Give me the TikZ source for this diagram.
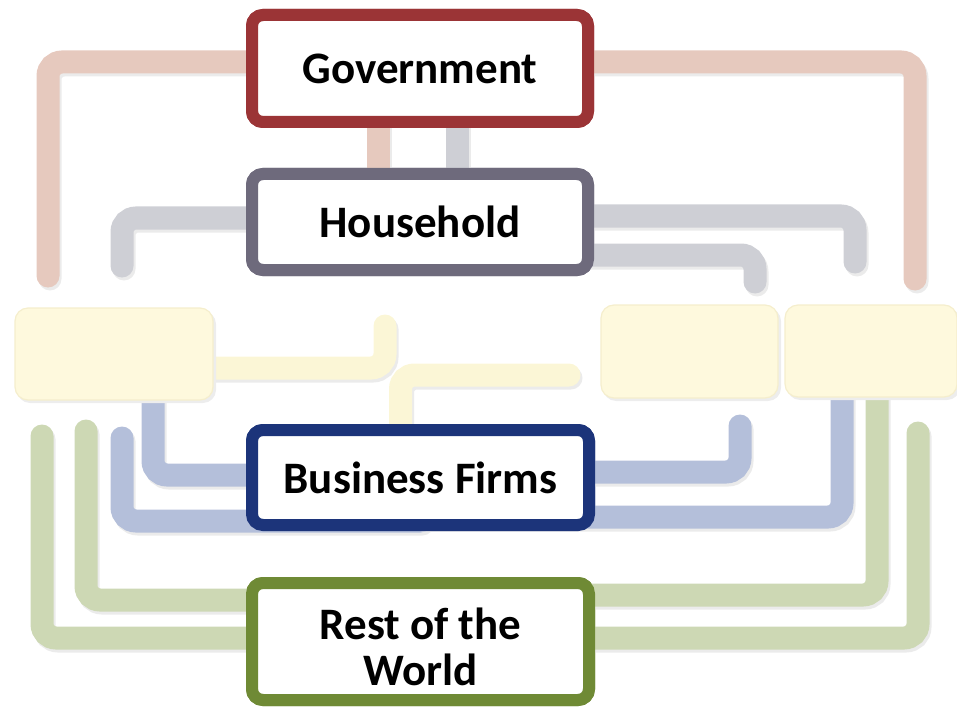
\documentclass[tikz,border=0pt]{standalone}
\usepackage{fontspec}
\setmainfont{Carlito}
\definecolor{govred}{RGB}{155,52,54}
\definecolor{hhgray}{RGB}{110,106,124}
\definecolor{bfblue}{RGB}{28,52,122}
\definecolor{rwgreen}{RGB}{111,138,53}
\definecolor{pinkflow}{RGB}{230,201,190}
\definecolor{grayflow}{RGB}{206,207,213}
\definecolor{yellowflow}{RGB}{251,246,214}
\definecolor{blueflow}{RGB}{180,191,218}
\definecolor{greenflow}{RGB}{205,216,180}
\definecolor{sectorfill}{RGB}{254,249,221}
\definecolor{sectoredge}{RGB}{245,238,205}
\newcommand\flow[2]{%
  \draw[flowshade] #2;
  \draw[flowline=#1] #2;}
\begin{document}
\begin{tikzpicture}[x=1pt,y=-1pt,
  flowline/.style={draw=#1, line width=23pt, line cap=round, rounded corners=14pt},
  flowshade/.style={draw=black!8, line width=23pt, line cap=round, rounded corners=14pt,
    transform canvas={shift={(2pt,-3pt)}}},
  agent/.style={draw=#1, line width=12pt, fill=white, rounded corners=11pt,
    inner sep=0pt, align=center, font=\bfseries\fontsize{45}{46}\selectfont},
  sector/.style={draw=sectoredge, line width=1.2pt, fill=sectorfill, rounded corners=13pt,
    inner sep=0pt}
]
\useasboundingbox (0,0) rectangle (957,711);

% agents and sectors (placed first so the flows can refer to them)
\path
  (420,68.5)   node[agent=govred,  minimum width=336pt, minimum height=107pt] (gov) {}
  (420,222)    node[agent=hhgray,  minimum width=336pt, minimum height=96pt]  (hh)  {}
  (420.5,477.5) node[agent=bfblue, minimum width=337pt, minimum height=95pt]  (bf)  {}
  (420.5,641.5) node[agent=rwgreen,minimum width=337pt, minimum height=117pt] (rw)  {};

% free ends of the flows
\coordinate (p1end) at (48,276);
\coordinate (p2end) at (915,279);
\coordinate (g5end) at (122,266);
\coordinate (g6end) at (855,262);
\coordinate (g7end) at (755,282);
\coordinate (y8end) at (385,326);
\coordinate (y9end) at (569,375);
\coordinate (b11s)  at (122,438);
\coordinate (b12end) at (740,426);
\coordinate (g14s)  at (42,436);
\coordinate (g15s)  at (86,431);
\coordinate (g17end) at (918,433);
\coordinate (ylc) at (114,354);
\coordinate (yrc) at (871,351);

% government flows
\flow{pinkflow}{([yshift=6.5pt]gov.center) -| (p1end)}
\flow{pinkflow}{([yshift=6.5pt]gov.center) -| (p2end)}
\flow{pinkflow}{([xshift=-42pt]gov.center) -- ([xshift=-42pt]hh.center)}
\flow{grayflow}{([xshift=37pt]gov.center) -- ([xshift=37pt]hh.center)}
% household flows
\flow{grayflow}{([yshift=4pt]hh.center) -| (g5end)}
\flow{grayflow}{([yshift=6pt]hh.center) -| (g6end)}
\flow{grayflow}{([yshift=-33pt]hh.center) -| (g7end)}
% flows between the sectors
\flow{yellowflow}{([yshift=-14pt]ylc) -| (y8end)}
\flow{yellowflow}{([xshift=-20pt]bf.center) |- (y9end)}
% business flows
\flow{blueflow}{([xshift=39pt]ylc) |- ([yshift=2.5pt]bf.center)}
\flow{blueflow}{(b11s) |- ([yshift=-43.5pt]bf.center)}
\flow{blueflow}{([yshift=5.5pt]bf.center) -| (b12end)}
\flow{blueflow}{([yshift=-39.5pt]bf.center) -| ([xshift=-29pt]yrc)}
% rest of the world flows
\flow{greenflow}{(g14s) |- ([yshift=3.5pt]rw.center)}
\flow{greenflow}{(g15s) |- ([yshift=41.5pt]rw.center)}
\flow{greenflow}{([yshift=46.5pt]rw.center) -| ([xshift=6pt]yrc)}
\flow{greenflow}{([yshift=3.5pt]rw.center) -| (g17end)}

% sectors
\fill[black!7, rounded corners=13pt] (17,311) rectangle (216,403);
\fill[black!7, rounded corners=13pt] (603,308) rectangle (781,401);
\fill[black!7, rounded corners=13pt] (787,308) rectangle (960,400);
\node[sector, minimum width=198pt, minimum height=92pt] (yl) at (ylc) {};
\node[sector, minimum width=177pt, minimum height=93pt] (ym) at (689.5,351.5) {};
\node[sector, minimum width=172pt, minimum height=92pt] (yr) at (yrc) {};

% agents drawn on top of the flows
\node[agent=govred,  minimum width=336pt, minimum height=107pt] at (gov) {Government};
\node[agent=hhgray,  minimum width=336pt, minimum height=96pt]  at (hh)  {Household};
\node[agent=bfblue,  minimum width=337pt, minimum height=95pt]  at (bf)  {Business Firms};
\node[agent=rwgreen, minimum width=337pt, minimum height=117pt] at (rw)  {};
\node[align=center, inner sep=0pt, font=\bfseries\fontsize{45}{46}\selectfont]
  (rwtext) at ([yshift=-5pt]rw.center) {Rest of the\\World};
\end{tikzpicture}
\end{document}
